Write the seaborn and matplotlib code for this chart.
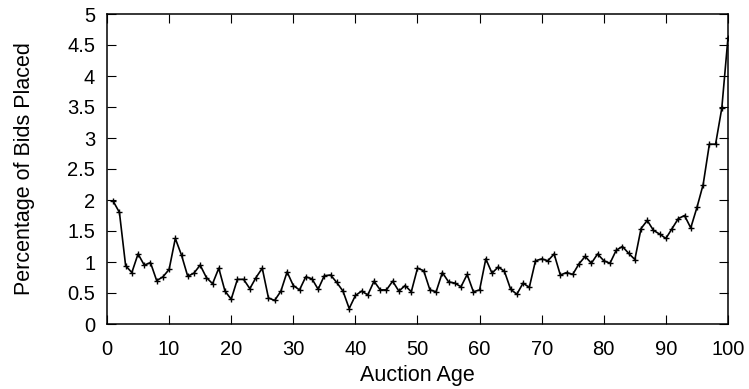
import numpy as np
import pandas as pd
import matplotlib
matplotlib.use("Agg")
import matplotlib.pyplot as plt
import seaborn as sns

ages = list(range(1, 101))
pct_bids = [
    1.98, 1.80, 0.94, 0.83, 1.13, 0.95, 0.99, 0.70, 0.76, 0.88,
    1.38, 1.11, 0.77, 0.82, 0.95, 0.75, 0.65, 0.90, 0.53, 0.40,
    0.72, 0.72, 0.57, 0.75, 0.90, 0.42, 0.38, 0.53, 0.84, 0.62,
    0.55, 0.76, 0.73, 0.56, 0.78, 0.79, 0.67, 0.53, 0.25, 0.46,
    0.53, 0.47, 0.69, 0.55, 0.55, 0.69, 0.53, 0.62, 0.52, 0.90,
    0.86, 0.55, 0.52, 0.83, 0.68, 0.66, 0.60, 0.80, 0.52, 0.55,
    1.05, 0.82, 0.92, 0.85, 0.56, 0.48, 0.66, 0.59, 1.02, 1.05,
    1.02, 1.13, 0.79, 0.83, 0.80, 0.97, 1.09, 0.98, 1.13, 1.02,
    0.98, 1.19, 1.25, 1.14, 1.04, 1.54, 1.67, 1.51, 1.45, 1.38,
    1.54, 1.70, 1.75, 1.55, 1.88, 2.25, 2.90, 2.90, 3.48, 4.62,
]
x_ticks = [0, 10, 20, 30, 40, 50, 60, 70, 80, 90, 100]
y_ticks = [0, 0.5, 1, 1.5, 2, 2.5, 3, 3.5, 4, 4.5, 5]
y_tick_labels = ["0", "0.5", "1", "1.5", "2", "2.5", "3", "3.5", "4", "4.5", "5"]
x_label = "Auction Age"
y_label = "Percentage of Bids Placed"

df = pd.DataFrame({"age": ages, "pct": pct_bids})

sns.set_style("white")
plt.rcParams["font.family"] = ["Liberation Sans", "DejaVu Sans"]

fig = plt.figure(figsize=(7.49, 3.89), dpi=100)
ax = fig.add_axes([107 / 749, 1 - 324 / 389, (728 - 107) / 749, (324 - 14) / 389])

sns.lineplot(data=df, x="age", y="pct", ax=ax, color="black", linewidth=1.2,
             marker="+", markersize=5, markeredgewidth=1.0,
             markeredgecolor="black", legend=False)

ax.set_xlim(0, 100)
ax.set_ylim(0, 5)
ax.set_xticks(x_ticks)
ax.set_xticklabels([str(v) for v in x_ticks])
ax.set_yticks(y_ticks)
ax.set_yticklabels(y_tick_labels)

ax.tick_params(axis="both", which="major", direction="in", length=6.5, width=0.8,
               color="black", labelsize=14.5, labelcolor="black",
               top=True, right=True, bottom=True, left=True)
ax.tick_params(axis="y", pad=8.5)
ax.tick_params(axis="x", pad=11.5)

for s in ax.spines.values():
    s.set_visible(True)
    s.set_color("black")
    s.set_linewidth(1.1)

ax.set_xlabel(x_label, fontsize=15.5, color="black", labelpad=4)
ax.set_ylabel(y_label, fontsize=15.5, color="black", labelpad=23)

fig.savefig("out.png", dpi=100, facecolor="white")
